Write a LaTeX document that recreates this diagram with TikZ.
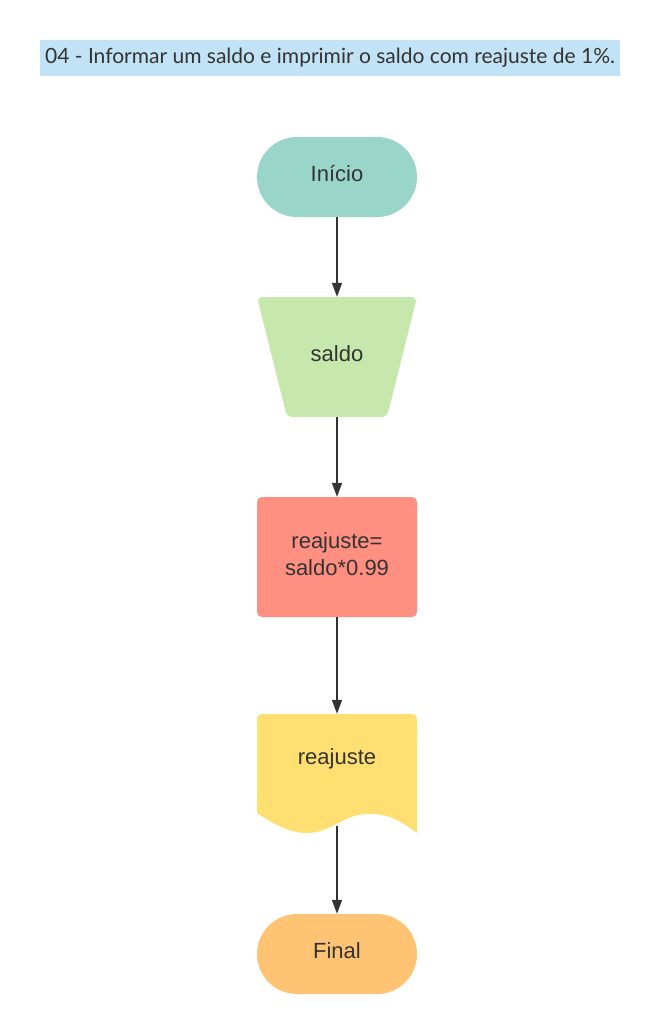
\documentclass[tikz,border=0pt]{standalone}
\usepackage{fontspec}
\setmainfont{Liberation Sans}
\newfontfamily\latofont{Lato}
\usetikzlibrary{arrows.meta}
\definecolor{inkgray}{HTML}{333333}
\definecolor{titlebg}{HTML}{C2E3F5}
\definecolor{startfill}{HTML}{9AD5CA}
\definecolor{inputfill}{HTML}{C7E8AC}
\definecolor{procfill}{HTML}{FF8F80}
\definecolor{docfill}{HTML}{FFDF71}
\definecolor{endfill}{HTML}{FFC374}
\tikzset{
  x=1pt, y=-1pt,
  terminal/.style={rectangle, rounded corners=40pt, minimum width=160pt, minimum height=80pt,
    inner sep=0pt},
  procbox/.style={rectangle, rounded corners=5pt, minimum width=160pt, minimum height=120pt,
    inner sep=0pt},
  anchorbox/.style={rectangle, inner sep=0pt, minimum width=160pt},
  label/.style={text=inkgray, align=center, font=\fontsize{22}{26.5}\selectfont},
  flow/.style={draw=inkgray, line width=1.6pt, -{Triangle[length=14pt,width=10pt]}},
}
\begin{document}
\begin{tikzpicture}
\useasboundingbox[fill=white] (0,0) rectangle (660,1034);

% title banner
\node[fill=titlebg, minimum width=580pt, minimum height=36pt, inner sep=0pt,
      text=inkgray, font=\latofont\fontsize{21}{24}\selectfont] (title) at (330,58)
  {04 - Informar um saldo e imprimir o saldo com reajuste de 1\%.};

% start terminal
\node[terminal, fill=startfill] (start) at (337,177) {};
\node[label] (starttext) at (337,174) {Início};

% manual input (trapezoid, wide side on top)
\fill[inputfill, rounded corners=5pt] (257,297) -- (417,297) -- (387,417) -- (287,417) -- cycle;
\node[anchorbox, minimum height=120pt] (input) at (337,357) {};
\node[label] (inputtext) at (337,354) {saldo};

% process
\node[procbox, fill=procfill] (calc) at (337,557) {};
\node[label] (calctext) at (337,554) {reajuste=\\saldo*0.99};

% output document with wavy bottom
\fill[docfill, rounded corners=5pt] (257,813) -- (257,714) -- (417,714) -- (417,740);
\fill[docfill] (257,813) -- (257,730) -- (417,730) -- (417,833)
  .. controls (397,818) and (385,813) .. (366,814)
  .. controls (342,815) and (330,834) .. (305,833)
  .. controls (285,832) and (270,821) .. (257,813) -- cycle;
\node[anchorbox, minimum height=100pt] (doc) at (337,764) {};
\node[label] (doctext) at (337,759) {reajuste};
\coordinate (docfoot) at (337,826);

% end terminal
\node[terminal, fill=endfill] (finish) at (337,954) {};
\node[label] (finishtext) at (337,951) {Final};

% connectors
\draw[flow] (start.south) -- (input.north);
\draw[flow] (input.south) -- (calc.north);
\draw[flow] (calc.south) -- (doc.north);
\draw[flow] (docfoot) -- (finish.north);
\end{tikzpicture}
\end{document}
